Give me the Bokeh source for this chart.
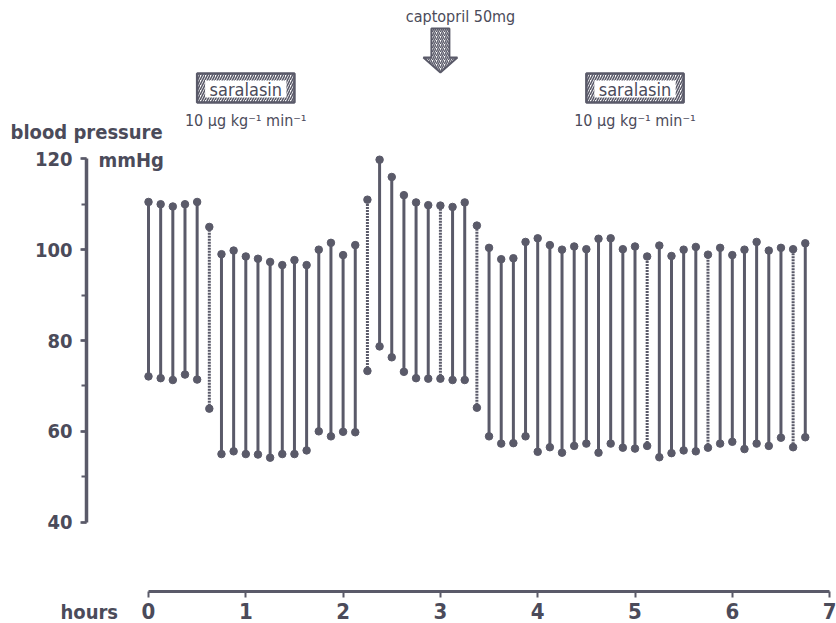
from bokeh.plotting import figure
from bokeh.models import Range1d, SingleIntervalTicker, ColumnDataSource
from bokeh.embed import file_html
from bokeh.resources import INLINE
from bokeh.core.properties import value

# ---------------- data ----------------
hours = [0.0, 0.125, 0.25, 0.375, 0.5, 0.625, 0.75, 0.875,
         1.0, 1.125, 1.25, 1.375, 1.5, 1.625, 1.75, 1.875,
         2.0, 2.125, 2.25, 2.375, 2.5, 2.625, 2.75, 2.875,
         3.0, 3.125, 3.25, 3.375, 3.5, 3.625, 3.75, 3.875,
         4.0, 4.125, 4.25, 4.375, 4.5, 4.625, 4.75, 4.875,
         5.0, 5.125, 5.25, 5.375, 5.5, 5.625, 5.75, 5.875,
         6.0, 6.125, 6.25, 6.375, 6.5, 6.625, 6.75]
systolic = [110.5, 110, 109.5, 110, 110.5, 105, 99, 99.8,
            98.5, 98, 97.3, 96.6, 97.7, 96.6, 100, 101.5,
            98.8, 101, 111, 119.8, 116, 112, 110.4, 109.8,
            109.7, 109.4, 110.4, 105.3, 100.4, 97.9, 98.1, 101.7,
            102.5, 101, 100, 100.7, 100.1, 102.4, 102.5, 100.1,
            100.7, 98.5, 100.9, 98.6, 100, 100.6, 98.9, 100.4,
            98.8, 100, 101.7, 99.8, 100.4, 100.1, 101.4]
diastolic = [72.1, 71.7, 71.3, 72.5, 71.4, 65.0, 55.0, 55.6,
             55.0, 54.9, 54.2, 55.0, 55.0, 55.8, 60.0, 58.9,
             59.9, 59.8, 73.3, 78.7, 76.3, 73.1, 71.7, 71.6,
             71.6, 71.3, 71.3, 65.2, 58.9, 57.3, 57.4, 58.9,
             55.5, 56.5, 55.3, 56.8, 57.3, 55.3, 57.3, 56.4,
             56.2, 56.8, 54.3, 55.2, 55.8, 55.6, 56.4, 57.3,
             57.7, 56.1, 57.3, 56.8, 58.6, 56.5, 58.7]
stippled = [5, 18, 24, 27, 41, 46, 53]

saralasin_start = [0.5, 4.5]
saralasin_end = [1.5, 5.5]
saralasin_text = "saralasin"
dose_text = "10 \u00b5g kg\u207b\u00b9 min\u207b\u00b9"
captopril_time = [3.0]
captopril_text = "captopril 50mg"
y_label_1 = "blood pressure"
y_label_2 = "mmHg"
x_label = "hours"

# ---------------- styling / layout ----------------
INK = "#4b4b5a"
LINE = "#5a5a69"
FONT = "'Liberation Sans Narrow', 'DejaVu Sans Condensed', sans-serif"

W, H = 836, 623
X0_PX = 148.0        # pixel column of hour 0
PX_PER_H = 97.3
Y120_PX = 158.3      # pixel row of 120 mmHg
PX_PER_MM = 4.5425


def hx(px):
    """pixel column -> hours (layout helper)"""
    return (px - X0_PX) / PX_PER_H


def vy(px):
    """pixel row -> mmHg (layout helper)"""
    return 120 - (px - Y120_PX) / PX_PER_MM


p = figure(width=W, height=H, output_backend="svg", toolbar_location=None,
           x_range=Range1d(hx(0), hx(W)), y_range=Range1d(vy(H), vy(0)),
           min_border=0)
p.outline_line_color = None
p.xgrid.visible = False
p.ygrid.visible = False
p.background_fill_color = "white"
p.border_fill_color = "white"

# axes (kept in their panels, drawn at fixed positions)
ya = p.yaxis[0]
ya.fixed_location = hx(86)
ya.bounds = (40, 120)
ya.ticker = SingleIntervalTicker(interval=20, num_minor_ticks=2)
ya.axis_line_width = 3.5
ya.axis_line_color = LINE
ya.major_tick_line_color = LINE
ya.major_tick_line_width = 2.5
ya.major_tick_out = 6
ya.major_tick_in = 0
ya.minor_tick_line_color = LINE
ya.minor_tick_line_width = 2
ya.minor_tick_out = 5
ya.minor_tick_in = 0
ya.major_label_standoff = 8
ya.major_label_text_font = FONT
ya.major_label_text_font_style = "bold"
ya.major_label_text_font_size = "20px"
ya.major_label_text_color = INK

xa = p.xaxis[0]
xa.fixed_location = vy(591)
xa.bounds = (0, 7)
xa.ticker = SingleIntervalTicker(interval=1, num_minor_ticks=0)
xa.axis_line_width = 3
xa.axis_line_color = LINE
xa.major_tick_line_color = LINE
xa.major_tick_line_width = 2
xa.major_tick_out = 6
xa.major_tick_in = 0
xa.minor_tick_line_color = None
xa.major_label_standoff = 5
xa.major_label_text_font = FONT
xa.major_label_text_font_style = "bold"
xa.major_label_text_font_size = "22px"
xa.major_label_text_color = INK

# bars
solid = ColumnDataSource(dict(
    x=[h for i, h in enumerate(hours) if i not in stippled],
    lo=[d for i, d in enumerate(diastolic) if i not in stippled],
    hi=[s for i, s in enumerate(systolic) if i not in stippled]))
dots = ColumnDataSource(dict(
    x=[h for i, h in enumerate(hours) if i in stippled],
    lo=[d for i, d in enumerate(diastolic) if i in stippled],
    hi=[s for i, s in enumerate(systolic) if i in stippled]))
p.segment(x0="x", y0="lo", x1="x", y1="hi", source=solid,
          line_color=LINE, line_width=3)
p.segment(x0="x", y0="lo", x1="x", y1="hi", source=dots,
          line_color=LINE, line_width=3, line_dash="2 1")
p.scatter(hours, systolic, size=7.5, fill_color=LINE, line_color=LINE)
p.scatter(hours, diastolic, size=7.5, fill_color=LINE, line_color=LINE)

# saralasin boxes
inset = 8 / PX_PER_H
p.quad(left=saralasin_start, right=saralasin_end, bottom=vy(102), top=vy(73),
       fill_color="white", hatch_pattern="/", hatch_color=LINE,
       hatch_scale=5, hatch_weight=1.6, line_color=LINE, line_width=2.5)
p.quad(left=[s + inset for s in saralasin_start],
       right=[e - inset for e in saralasin_end],
       bottom=vy(97), top=vy(80), fill_color="white", line_color=None)
mid = [(s + e) / 2 for s, e in zip(saralasin_start, saralasin_end)]
p.text(x=mid, y=vy(89), text=[saralasin_text] * 2, text_align="center",
       text_baseline="middle", text_font=value(FONT), text_font_size="18px",
       text_color=INK)
p.text(x=mid, y=vy(120), text=[dose_text] * 2, text_align="center",
       text_baseline="middle", text_font=value(FONT), text_font_size="16px",
       text_color=INK)

# captopril arrow
t = captopril_time[0]
sw = 9 / PX_PER_H
hw = 17 / PX_PER_H
p.patch(x=[t - sw, t + sw, t + sw, t + hw, t, t - hw, t - sw],
        y=[vy(28), vy(28), vy(57), vy(57), vy(72), vy(57), vy(57)],
        fill_color="white", hatch_pattern="/", hatch_color=LINE,
        hatch_scale=4, hatch_weight=1.4, line_color=LINE, line_width=2)
p.text(x=[hx(460)], y=[vy(16)], text=[captopril_text], text_align="center",
       text_baseline="middle", text_font=value(FONT), text_font_size="16px",
       text_color=INK)

# axis captions
p.text(x=[hx(98)], y=[vy(159)], text=[y_label_2],
       text_align="left", text_baseline="middle", text_font=value(FONT),
       text_font_size="20px", text_font_style="bold", text_color=INK)
p.text(x=[hx(10)], y=[vy(131)], text=[y_label_1],
       text_align="left", text_baseline="middle", text_font=value(FONT),
       text_font_size="20px", text_font_style="bold", text_color=INK)
p.text(x=[hx(60)], y=[vy(611)], text=[x_label],
       text_align="left", text_baseline="middle", text_font=value(FONT),
       text_font_size="20px", text_font_style="bold", text_color=INK)

open("out.html", "w").write(file_html(p, INLINE))
